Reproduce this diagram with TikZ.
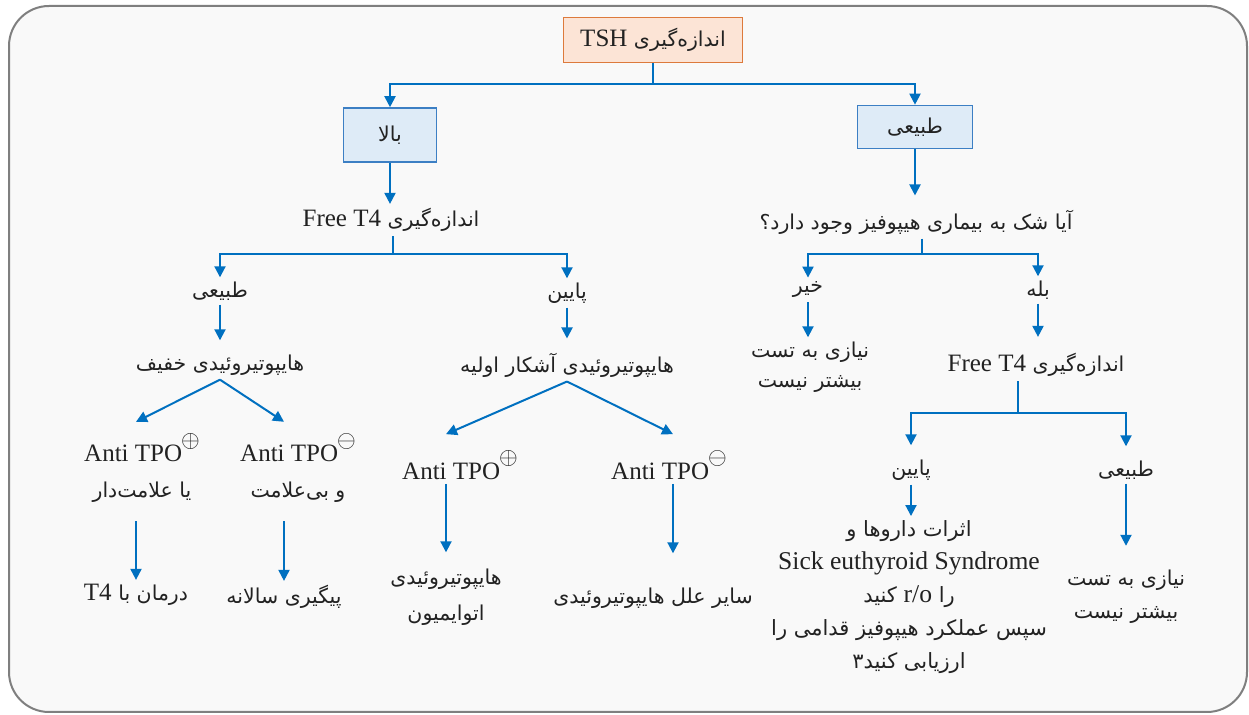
\documentclass[tikz,border=0pt]{standalone}
\usepackage{fontspec}
\setmainfont{Liberation Serif}
\newfontfamily\farsi[Script=Arabic,Scale=0.82]{DejaVu Sans}
\TeXXeTstate=1
\usetikzlibrary{arrows.meta,positioning}
\definecolor{frameline}{HTML}{7F7F7F}
\definecolor{framefill}{HTML}{F9F9F9}
\definecolor{flow}{HTML}{0070C0}
\definecolor{peach}{HTML}{FCE4D6}
\definecolor{peachline}{HTML}{DD7A3C}
\definecolor{paleblue}{HTML}{DEEBF7}
\definecolor{boxblue}{HTML}{3C7FC4}
\definecolor{ink}{HTML}{222222}
\newcommand{\fatext}[1]{{\farsi\beginR #1\endR}}
\newcommand{\lat}[1]{\beginL{\rmfamily #1}\endL}
\newcommand{\pos}{\kern-0.5pt\raisebox{7.3pt}{\fontsize{12}{12}\selectfont$\oplus$}}
\newcommand{\negv}{\kern-0.5pt\raisebox{7.3pt}{\fontsize{12}{12}\selectfont$\ominus$}}

\begin{document}
\begin{tikzpicture}[x=0.5pt, y=-0.5pt,
    hdbox/.style={rectangle, draw=peachline, fill=peach, line width=0.8pt,
                  minimum width=89.5pt, minimum height=22.5pt},
    selbox/.style={rectangle, draw=boxblue, fill=paleblue, line width=0.8pt},
    lbl/.style={align=center, inner sep=2pt, text=ink, font=\fontsize{12.5}{18}\selectfont},
    arr/.style={-{Triangle[length=5.5pt,width=5.5pt]}, line width=1pt, flow},
    ln/.style={line width=1pt, flow}
]
\useasboundingbox (0,0) rectangle (1249,715);
\draw[frameline, fill=framefill, line width=1pt, rounded corners=20pt] (9,6) rectangle (1247,712);

% top level
\node[hdbox, lbl] (tsh) at (653,40) {\fatext{اندازه‌گیری \lat{TSH}}};
\node[selbox, lbl, minimum width=46.5pt, minimum height=27pt] (high) at (390,135) {\fatext{بالا}};
\node[selbox, lbl, minimum width=57.5pt, minimum height=21.5pt] (norm) at (915,127) {\fatext{طبیعی}};
\coordinate (j1) at (653,84);
\draw[ln] (tsh) -- (j1);
\draw[arr] (j1) -| (high);
\draw[arr] (j1) -| (norm);

% high TSH branch
\node[lbl] (ft4a) at (391,220) {\fatext{اندازه‌گیری \lat{Free T4}}};
\draw[arr] (high) -- (high |- ft4a.north);
\coordinate (j2) at (393,254);
\node[lbl] (nrmA) at (220,291) {\fatext{طبیعی}};
\node[lbl] (lowA) at (567,293) {\fatext{پایین}};
\draw[ln] (ft4a.south -| j2) -- (j2);
\draw[arr] (j2) -| (nrmA);
\draw[arr] (j2) -| (lowA);

\node[lbl] (mild) at (220,365) {\fatext{هایپوتیروئیدی خفیف}};
\node[lbl] (overt) at (567,365) {\fatext{هایپوتیروئیدی آشکار اولیه}};
\draw[arr, shorten >=5pt] (nrmA) -- (mild);
\draw[arr, shorten >=5pt] (lowA) -- (overt);

\node[lbl] (tpoP1) at (142,468) {Anti TPO\pos\\\fatext{یا علامت‌دار}};
\node[lbl] (tpoN1) at (298,468) {Anti TPO\negv\\\fatext{و بی‌علامت}};
\node[lbl] (treat) at (136,595) {\fatext{درمان با \lat{T4}}};
\node[lbl] (follow) at (284,597) {\fatext{پیگیری سالانه}};
\draw[arr] (mild.south) -- ([yshift=3.5pt]tpoP1.north -| treat);
\draw[arr] (mild.south) -- ([yshift=3.5pt]tpoN1.north -| follow);
\draw[arr, shorten <=7pt] (tpoP1.south -| treat) -- (treat);
\draw[arr, shorten <=7pt] (tpoN1.south -| follow) -- (follow);

\node[lbl] (tpoP2) at (460,465) {Anti TPO\pos};
\node[lbl] (tpoN2) at (669,465) {Anti TPO\negv};
\node[lbl] (auto) at (446,597) {\fatext{هایپوتیروئیدی}\\\fatext{اتوایمیون}};
\node[lbl] (other) at (653,598) {\fatext{سایر علل هایپوتیروئیدی}};
\draw[arr] (overt.south) -- ([yshift=6pt]tpoP2.north -| auto);
\draw[arr] (overt.south) -- ([yshift=6pt,xshift=2pt]tpoN2.north);
\draw[arr, shorten >=6pt] (tpoP2.south -| auto) -- (auto);
\draw[arr] ([xshift=2pt]tpoN2.south) -- ([xshift=2pt,yshift=15pt]tpoN2.south |- other.north);

% normal TSH branch
\node[lbl] (q) at (916,222) {\fatext{آیا شک به بیماری هیپوفیز وجود دارد؟}};
\draw[arr, shorten >=5pt] (norm) -- (norm |- q.north);
\coordinate (j3) at (922,254);
\node[lbl] (no) at (808,290) {\fatext{خیر}};
\node[lbl] (yes) at (1038,290) {\fatext{بله}};
\draw[ln] (q.south -| j3) -- (j3);
\draw[arr] (j3) -| (no);
\draw[arr] (j3) -| (yes);

\node[lbl] (nomore1) at (810,367) {\fatext{نیازی به تست}\\[-3pt]\fatext{بیشتر نیست}};
\node[lbl] (ft4b) at (1036,365) {\fatext{اندازه‌گیری \lat{Free T4}}};
\draw[arr] (no) -- (no |- nomore1.north);
\draw[arr, shorten >=6pt] (yes) -- (yes |- ft4b.north);

\coordinate (j4) at (1018,413);
\node[lbl] (lowB) at (911,470) {\fatext{پایین}};
\node[lbl] (nrmB) at (1126,470) {\fatext{طبیعی}};
\draw[ln] (ft4b.south -| j4) -- (j4);
\draw[arr, shorten >=5pt] (j4) -| (lowB);
\draw[arr, shorten >=5pt] (j4) -| (nrmB);

\node[lbl, font=\fontsize{12.8}{16.5}\selectfont] (recomm) at (909,597)
  {\fatext{اثرات داروها و}\\Sick euthyroid Syndrome\\\fatext{را \lat{r/o} کنید}\\
   \fatext{سپس عملکرد هیپوفیز قدامی را}\\\fatext{ارزیابی کنید۳}};
\node[lbl, font=\fontsize{12.5}{16.5}\selectfont] (nomore2) at (1126,597)
  {\fatext{نیازی به تست}\\\fatext{بیشتر نیست}};
\draw[arr] (lowB) -- (lowB |- recomm.north);
\draw[arr, shorten >=10pt] (nrmB) -- (nomore2);
\end{tikzpicture}
\end{document}
